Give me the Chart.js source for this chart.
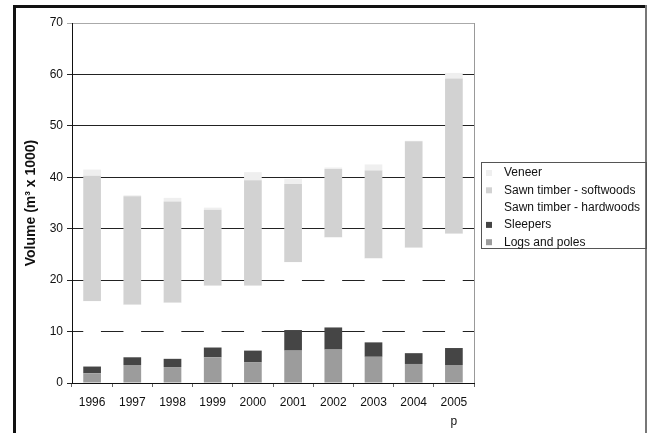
<!DOCTYPE html>
<html>
<head>
<meta charset="utf-8">
<title>Timber volumes</title>
<script src="https://cdn.jsdelivr.net/npm/chart.js@4"></script>
<style>
  html, body { margin: 0; padding: 0; background: #fff; }
  #wrap { width: 651px; height: 433px; position: relative; }
</style>
</head>
<body>
<div id="wrap"><canvas id="volumeChart" width="651" height="433"></canvas></div>
<script>
// Chart data
const years = ["1996", "1997", "1998", "1999", "2000", "2001", "2002", "2003", "2004", ["2005", "p"]];
const logsAndPoles = [1.9, 3.5, 3.1, 5.0, 4.0, 6.3, 6.5, 5.1, 3.7, 3.5];
const sleepers = [1.3, 1.5, 1.6, 1.9, 2.3, 4.0, 4.3, 2.8, 2.1, 3.3];
const sawnHardwoods = [12.7, 10.2, 10.9, 12.0, 12.6, 13.2, 17.5, 16.3, 20.5, 22.2];
const sawnSoftwoods = [24.4, 21.1, 19.7, 14.8, 20.5, 15.2, 13.3, 17.1, 20.7, 30.2];
const veneer = [1.2, 0.2, 0.7, 0.4, 1.6, 1.0, 0.3, 1.2, 0.1, 1.1];
const yTicks = [0, 10, 20, 30, 40, 50, 60, 70];

const FONT = "'Liberation Sans', Arial, sans-serif";

// Outer frame + plot border drawn around the chart
const framePlugin = {
  id: "frame",
  beforeDraw(chart) {
    const ctx = chart.ctx;
    ctx.save();
    ctx.fillStyle = "#fff";
    ctx.fillRect(0, 0, chart.width, chart.height);
    ctx.fillStyle = "#111";
    ctx.fillRect(13, 5, 634, 3);
    ctx.fillRect(13, 5, 3, 428);
    ctx.fillStyle = "#777";
    ctx.fillRect(645, 5, 2, 428);
    ctx.restore();
  },
  beforeDatasetsDraw(chart) {
    const a = chart.chartArea;
    const ctx = chart.ctx;
    ctx.save();
    ctx.strokeStyle = "#999";
    ctx.lineWidth = 1;
    ctx.beginPath();
    ctx.moveTo(a.right + 0.5, a.top);
    ctx.lineTo(a.right + 0.5, a.bottom);
    ctx.stroke();
    ctx.restore();
  },
};

// Legend box on the right, in reversed (Excel) order
const legendPlugin = {
  id: "boxLegend",
  afterDraw(chart) {
    const ctx = chart.ctx;
    const sets = chart.data.datasets.slice().reverse();
    const boxX = 481, boxY = 162, boxW = 165, boxH = 86;
    ctx.save();
    ctx.strokeStyle = "#555";
    ctx.lineWidth = 1;
    ctx.strokeRect(boxX + 0.5, boxY + 0.5, boxW, boxH);
    ctx.font = "12px " + FONT;
    ctx.textBaseline = "middle";
    sets.forEach((ds, i) => {
      const y = 173 + i * 17.3;
      ctx.fillStyle = ds.backgroundColor;
      ctx.fillRect(486, y - 3, 6, 6);
      ctx.fillStyle = "#111";
      ctx.fillText(ds.label, 504, y);
    });
    ctx.restore();
  },
};

new Chart(document.getElementById("volumeChart"), {
  type: "bar",
  data: {
    labels: years,
    datasets: [
      { label: "Logs and poles", data: logsAndPoles, backgroundColor: "#9c9c9c" },
      { label: "Sleepers", data: sleepers, backgroundColor: "#454545" },
      { label: "Sawn timber - hardwoods", data: sawnHardwoods, backgroundColor: "#ffffff" },
      { label: "Sawn timber - softwoods", data: sawnSoftwoods, backgroundColor: "#d2d2d2" },
      { label: "Veneer", data: veneer, backgroundColor: "#efefef" },
    ],
  },
  options: {
    responsive: false,
    animation: false,
    layout: { padding: { top: 23, left: 20, right: 177, bottom: 0 } },
    datasets: { bar: { categoryPercentage: 1, barPercentage: 0.44 } },
    plugins: {
      legend: { display: false },
      tooltip: { enabled: false },
    },
    scales: {
      x: {
        stacked: true,
        afterFit: (s) => { s.height = 50; },
        grid: { display: true, offset: true, drawOnChartArea: false, tickLength: 4, color: "#666" },
        border: { color: "#111" },
        ticks: {
          color: "#111",
          padding: 6,
          maxRotation: 0,
          font: { family: FONT, size: 12, lineHeight: 1.6 },
        },
      },
      y: {
        stacked: true,
        min: 0,
        max: 70,
        afterFit: (s) => { s.width = 52; },
        afterBuildTicks: (s) => { s.ticks = yTicks.map((v) => ({ value: v })); },
        grid: {
          tickLength: 5,
          color: (c) => (c.tick && c.tick.value === 70 ? "#aaa" : "#222"),
        },
        border: { color: "#111" },
        ticks: { color: "#111", padding: 4, font: { family: FONT, size: 12 } },
        title: {
          display: true,
          text: "Volume (m³ x 1000)",
          color: "#111",
          padding: { top: 3, bottom: 3 },
          font: { family: FONT, size: 14, weight: "bold" },
        },
      },
    },
  },
  plugins: [framePlugin, legendPlugin],
});
</script>
</body>
</html>
